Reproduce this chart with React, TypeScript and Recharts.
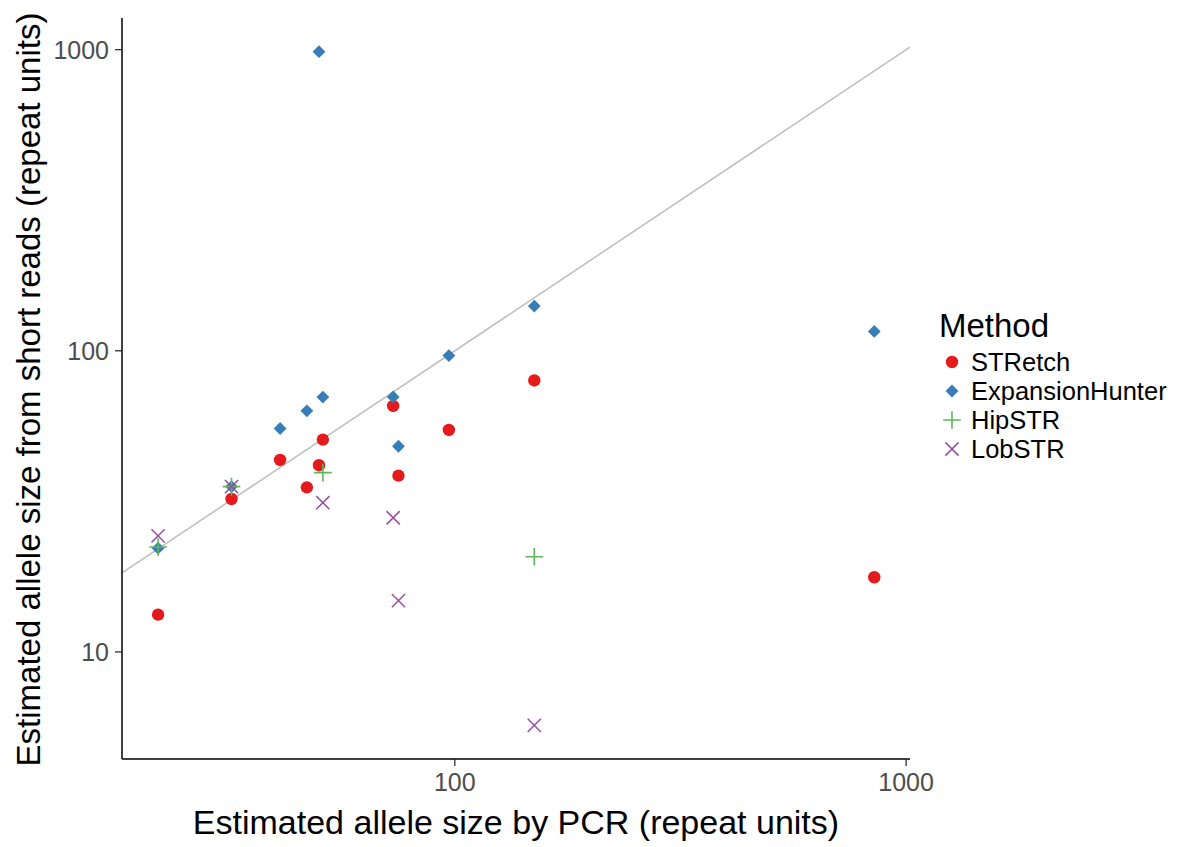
import React from "react";
import { ScatterChart, Scatter, XAxis, YAxis, ReferenceLine, Label } from "recharts";

// PCR size (x) vs size estimated from short reads (y), per method
const stretchPcr = [22, 32, 41, 47, 50, 51, 73, 75, 97, 150, 850];
const stretchEst = [13.3, 32.2, 43.4, 35.2, 41.7, 50.7, 65.6, 38.5, 54.6, 79.7, 17.7];

const ehPcr = [22, 32, 41, 47, 50, 51, 73, 75, 97, 150, 850];
const ehEst = [22.1, 35.4, 55.2, 63.2, 985, 70.2, 70.3, 48.2, 96.4, 140.8, 116];

const hipPcr = [22, 32, 51, 150];
const hipEst = [22.3, 35.4, 39.4, 20.7];

const lobPcr = [22, 32, 51, 73, 75, 150];
const lobEst = [24.3, 35.4, 31.3, 27.9, 14.8, 5.7];

const xTicks = [100, 1000];
const yTicks = [10, 100, 1000];
const methods = ["STRetch", "ExpansionHunter", "HipSTR", "LobSTR"];

const RED = "#E41A1C";
const BLUE = "#377EB8";
const GREEN = "#5DB85A";
const PURPLE = "#984EA3";
const FONT = "'Liberation Sans', Arial, Helvetica, sans-serif";

const toRows = (xs: number[], ys: number[]) => xs.map((x, i) => ({ pcr: x, est: ys[i] }));

const Dot = ({ cx, cy }: any) => <circle cx={cx} cy={cy} r={6.2} fill={RED} />;
const Diamond = ({ cx, cy }: any) => (
  <path d={`M${cx},${cy - 6.4}L${cx + 6.4},${cy}L${cx},${cy + 6.4}L${cx - 6.4},${cy}Z`} fill={BLUE} />
);
const Plus = ({ cx, cy }: any) => (
  <path d={`M${cx - 8.8},${cy}H${cx + 8.8}M${cx},${cy - 8.8}V${cy + 8.8}`} stroke={GREEN} strokeWidth={1.6} fill="none" />
);
const Cross = ({ cx, cy }: any) => (
  <path
    d={`M${cx - 6.6},${cy - 6.6}L${cx + 6.6},${cy + 6.6}M${cx - 6.6},${cy + 6.6}L${cx + 6.6},${cy - 6.6}`}
    stroke={PURPLE}
    strokeWidth={1.5}
    fill="none"
  />
);

const shapes = [Dot, Diamond, Plus, Cross];

export default function App() {
  const W = 1173;
  const H = 839;

  return (
    <div style={{ position: "relative", width: W, height: H, fontFamily: FONT }}>
      <ScatterChart width={W} height={H} margin={{ top: 10, right: 271, left: 0, bottom: 0 }}>
        <XAxis
          type="number"
          dataKey="pcr"
          scale="log"
          domain={[18.3, 1020]}
          ticks={xTicks}
          allowDataOverflow
          height={88}
          tickSize={7}
          tickMargin={7}
          axisLine={{ stroke: "#000", strokeWidth: 1.5 }}
          tickLine={{ stroke: "#222", strokeWidth: 1.2 }}
          tick={{ fill: "#4d4d4d", fontSize: 25, fontFamily: FONT }}
        >
          <Label
            content={(p: any) => {
              const vb = p.viewBox || {};
              return (
                <text
                  x={vb.x + vb.width / 2}
                  y={vb.y + 63}
                  textAnchor="middle"
                  dominantBaseline="central"
                  fontSize={34}
                  fontFamily={FONT}
                  fill="#000"
                >
                  Estimated allele size by PCR (repeat units)
                </text>
              );
            }}
          />
        </XAxis>
        <YAxis
          type="number"
          dataKey="est"
          scale="log"
          domain={[4.41, 1274]}
          ticks={yTicks}
          allowDataOverflow
          width={114}
          tickSize={7}
          tickMargin={6}
          axisLine={{ stroke: "#000", strokeWidth: 1.5 }}
          tickLine={{ stroke: "#222", strokeWidth: 1.2 }}
          tick={{ fill: "#4d4d4d", fontSize: 25, fontFamily: FONT }}
        >
          <Label
            content={(p: any) => {
              const vb = p.viewBox || {};
              const cx = vb.x + 20;
              const cy = vb.y + vb.height / 2 + 1;
              return (
                <text
                  x={cx}
                  y={cy}
                  transform={`rotate(-90 ${cx} ${cy})`}
                  textAnchor="middle"
                  dominantBaseline="central"
                  fontSize={33}
                  fontFamily={FONT}
                  fill="#000"
                >
                  Estimated allele size from short reads (repeat units)
                </text>
              );
            }}
          />
        </YAxis>
        <ReferenceLine
          segment={[
            { x: 18.3, y: 18.3 },
            { x: 1020, y: 1020 },
          ]}
          stroke="#bdbdbd"
          strokeWidth={1.5}
          ifOverflow="visible"
        />
        <Scatter name="STRetch" data={toRows(stretchPcr, stretchEst)} shape={Dot} isAnimationActive={false} />
        <Scatter name="ExpansionHunter" data={toRows(ehPcr, ehEst)} shape={Diamond} isAnimationActive={false} />
        <Scatter name="HipSTR" data={toRows(hipPcr, hipEst)} shape={Plus} isAnimationActive={false} />
        <Scatter name="LobSTR" data={toRows(lobPcr, lobEst)} shape={Cross} isAnimationActive={false} />
      </ScatterChart>

      <svg style={{ position: "absolute", left: 920, top: 290, overflow: "visible" }} width={253} height={175}>
        <text x={11} y={27} dominantBaseline="central" fontSize={33} fontFamily={FONT} fill="#000">
          Method
        </text>
        {methods.map((m, i) => {
          const Shape = shapes[i];
          const cy = 64 + i * 29;
          return (
            <g key={m}>
              <Shape cx={24} cy={cy} />
              <text x={43} y={cy} dominantBaseline="central" fontSize={25.5} fontFamily={FONT} fill="#000">
                {m}
              </text>
            </g>
          );
        })}
      </svg>
    </div>
  );
}
